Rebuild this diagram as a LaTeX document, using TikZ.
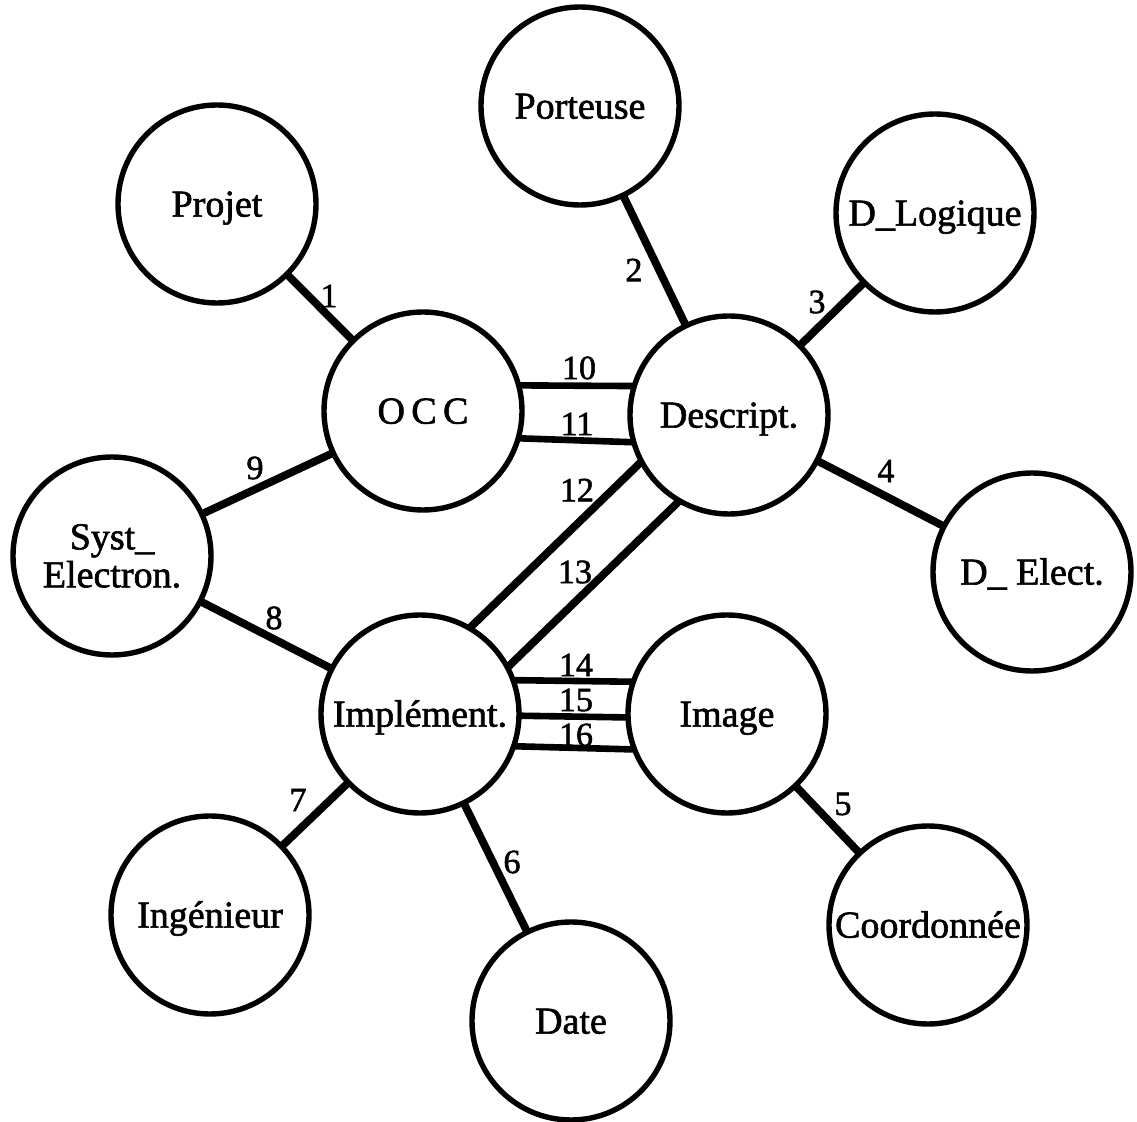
\documentclass[tikz,border=0pt]{standalone}
\usepackage{fontspec}
\setmainfont[FakeBold=1.2]{Liberation Serif}
\newfontfamily\heavyfont[FakeBold=1.6]{Liberation Serif}
\begin{document}
\begin{tikzpicture}[x=0.5pt,y=-0.5pt,
  entity/.style={circle,draw,line width=2.7pt,minimum size=99pt,inner sep=0pt,
    outer sep=0pt,align=center,text height=12.6pt,text depth=0pt,
    font=\heavyfont\fontsize{19}{19}\selectfont},
  twoline/.style={text height=,text depth=},
  link/.style={line width=3.9pt},
  rel/.style={line width=3.3pt},
  num/.style={inner sep=0pt,font=\heavyfont\fontsize{17}{17}\selectfont}]
\useasboundingbox (0,0) rectangle (1137,1122);

% entities
\node[entity] (projet) at (217,204) {Projet};
\node[entity] (port)   at (580,106) {Porteuse};
\node[entity] (dlog)   at (935,213) {D\_Logique};
\node[entity] (occ)    at (423,411) {O\hspace{3.2pt}C\hspace{3.2pt}C};
\node[entity] (desc)   at (729,415) {Descript.};
\node[entity,twoline] (syst) at (112,556) {Syst\_\\Electron.};
\node[entity] (delec)  at (1032,572) {D\_ Elect.};
\node[entity] (impl)   at (420,714) {Implément.};
\node[entity] (image)  at (727,714) {Image};
\node[entity] (ing)    at (210,915) {Ingénieur};
\node[entity] (date)   at (571,1021) {Date};
\node[entity] (coord)  at (928,925) {Coordonnée};

% single associations
\draw[link] (projet) -- (occ);
\draw[link] (port) -- (desc);
\draw[link] (dlog) -- (desc);
\draw[link] (desc) -- (delec);
\draw[link] (image) -- (coord);
\draw[link] (impl) -- (date);
\draw[link] (impl) -- (ing);
\draw[link] (syst) -- (impl);
\draw[link] (syst) -- (occ);

% parallel associations
\draw[rel] (occ.15) -- (desc.163);
\draw[rel] (occ.-16) -- (desc.196);
\draw[link] (desc.208) -- (impl.60);
\draw[link] (desc.240) -- (impl.28);
\draw[rel] (impl.20) -- (image.161);
\draw[rel] (impl.-1) -- (image.182);
\draw[rel] (impl.-19.5) -- (image.201);

% association numbers
\node[num] (n1)  at (329,296) {1};
\node[num] (n2)  at (634,270) {2};
\node[num] (n3)  at (817,302) {3};
\node[num] (n4)  at (886,471) {4};
\node[num] (n5)  at (843,804) {5};
\node[num] (n6)  at (512,862) {6};
\node[num] (n7)  at (298,800) {7};
\node[num] (n8)  at (274,618) {8};
\node[num] (n9)  at (255,468) {9};
\node[num] (n10) at (579,368) {10};
\node[num] (n11) at (577,424) {11};
\node[num] (n12) at (577,490) {12};
\node[num] (n13) at (575,572) {13};
\node[num] (n14) at (576,665) {14};
\node[num] (n15) at (576,700) {15};
\node[num] (n16) at (576,735) {16};
\end{tikzpicture}
\end{document}
